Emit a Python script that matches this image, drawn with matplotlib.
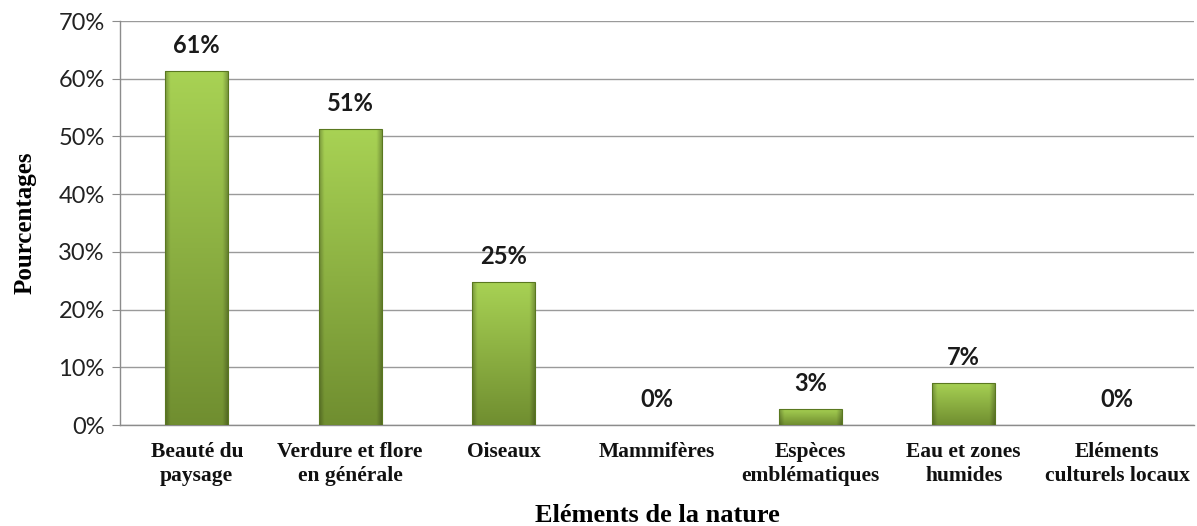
import numpy as np
import matplotlib
matplotlib.use("Agg")
import matplotlib.pyplot as plt

categories = ["Beauté du\npaysage", "Verdure et flore\nen générale", "Oiseaux", "Mammifères",
              "Espèces\nemblématiques", "Eau et zones\nhumides", "Eléments\nculturels locaux"]
values = [61.3, 51.3, 24.8, 0, 2.8, 7.3, 0]
labels = ["61%", "51%", "25%", "0%", "3%", "7%", "0%"]
yticks = [0, 10, 20, 30, 40, 50, 60, 70]

fig = plt.figure(figsize=(11.97, 5.26), dpi=100)
ax = fig.add_axes([0.1003, 0.192, 0.897, 0.768])

x = np.arange(len(categories))
bars = ax.bar(x, values, width=0.41, color="#9cc24a", edgecolor="none", linewidth=0, zorder=3)

top_c = np.array([168, 210, 84]) / 255
bot_c = np.array([112, 142, 48]) / 255
for b in bars:
    h = b.get_height()
    if h <= 0:
        continue
    x0 = b.get_x(); w = b.get_width()
    ny, nx = 100, 60
    t = np.linspace(1, 0, ny)[:, None]
    col = bot_c + (top_c - bot_c) * t[..., None]
    col = np.broadcast_to(col, (ny, nx, 3)).copy()
    u = np.linspace(0, 1, nx)
    edge = np.clip(np.minimum(u, 1 - u) / 0.08, 0, 1)
    col *= (0.75 + 0.25 * edge)[None, :, None]
    im = ax.imshow(col, extent=(x0, x0 + w, 0, h), aspect="auto", zorder=3.5, interpolation="bilinear")
    im.set_clip_path(b)
    ax.add_patch(plt.Rectangle((x0, 0), w, h, fill=False, edgecolor="#5a7820", lw=0.8, zorder=4))

for xi, v, lab in zip(x, values, labels):
    ax.annotate(lab, (xi, v), xytext=(0, 18.5), textcoords="offset points", ha="center", va="center",
                fontsize=17, fontweight="bold", family="Lato", color="#1a1a1a", zorder=5)

ax.set_xlim(-0.5, len(categories) - 0.5)
ax.set_ylim(0, 70)
ax.set_yticks(yticks)
ax.set_yticklabels([f"{t}%" for t in yticks], family="Lato", fontsize=17, color="#222222")
ax.set_xticks(x)
ax.set_xticklabels(categories, family="Liberation Serif", fontweight="bold", fontsize=15.5, color="#111111",
                   linespacing=1.3)
ax.tick_params(axis="x", length=0, pad=12)
ax.tick_params(axis="y", length=6, color="#8c8c8c", pad=5)
ax.grid(axis="y", color="#9a9a9a", linewidth=1.0, zorder=0)
ax.set_axisbelow(True)
for s in ["top", "right"]:
    ax.spines[s].set_visible(False)
for s in ["left", "bottom"]:
    ax.spines[s].set_color("#8c8c8c")
    ax.spines[s].set_linewidth(1.0)

ax.set_xlabel("Eléments de la nature", family="Liberation Serif", fontweight="bold", fontsize=19)
ax.set_ylabel("Pourcentages", family="Liberation Serif", fontweight="bold", fontsize=18)
ax.xaxis.set_label_coords(0.5, -0.195)
ax.yaxis.set_label_coords(-0.078, 0.5)

fig.savefig("out.png", dpi=100)
